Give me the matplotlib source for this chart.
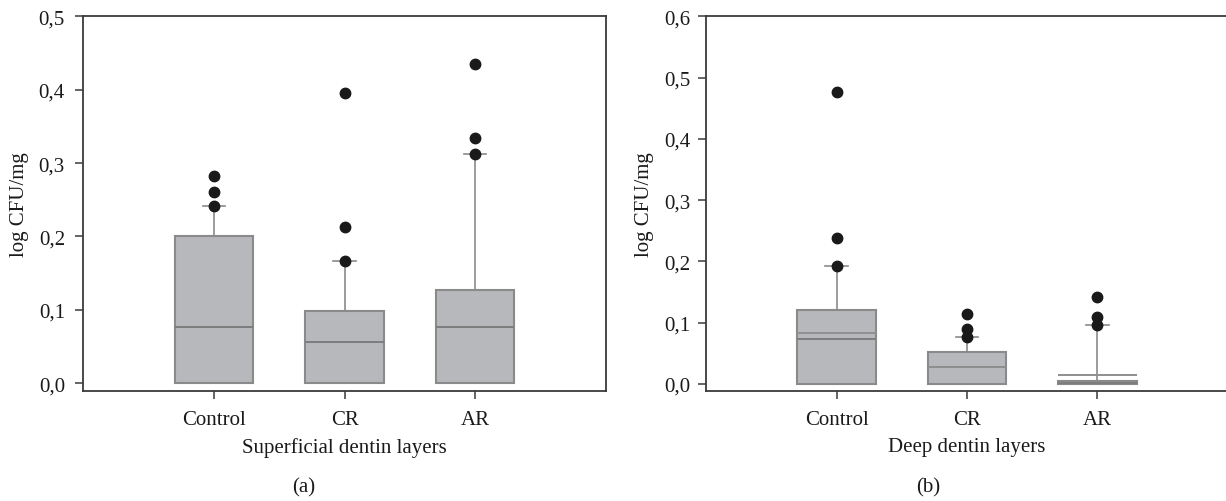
import matplotlib
matplotlib.use("Agg")
import matplotlib.pyplot as plt

plt.rcParams['font.family'] = ['Liberation Serif', 'DejaVu Serif']

groups = ["Control", "CR", "AR"]

# Superficial dentin layers (a)
sup_q1 = [0.0, 0.0, 0.0]
sup_med = [0.0766, 0.056, 0.0766]
sup_q3 = [0.2, 0.098, 0.127]
sup_whislo = [0.0, 0.0, 0.0]
sup_whishi = [0.241, 0.166, 0.3125]
sup_fliers = [[0.241, 0.260, 0.283], [0.166, 0.2136, 0.396], [0.3125, 0.334, 0.435]]

# Deep dentin layers (b)
deep_q1 = [0.0, 0.0, 0.0]
deep_med = [0.0732, 0.0283, 0.002]
deep_mean = [0.0827, 0.0283, 0.0152]
deep_q3 = [0.1212, 0.0517, 0.0044]
deep_whislo = [0.0, 0.0, 0.0]
deep_whishi = [0.193, 0.0767, 0.0963]
deep_fliers = [[0.193, 0.239, 0.4766], [0.0767, 0.0900, 0.114], [0.0963, 0.110, 0.1425]]

y_ticks_a = [0.0, 0.1, 0.2, 0.3, 0.4, 0.5]
y_ticks_b = [0.0, 0.1, 0.2, 0.3, 0.4, 0.5, 0.6]

W, H = 1226, 502
fig = plt.figure(figsize=(W / 100, H / 100), dpi=100)

BOX_FACE = "#b7b8bc"
BOX_EDGE = "#8a8a8a"
SPINE = "#3a3a3a"
FS = 15


def make_stats(q1, med, q3, lo, hi, fl, mean=None):
    stats = []
    for i in range(len(q1)):
        d = dict(q1=q1[i], med=med[i], q3=q3[i], whislo=lo[i], whishi=hi[i],
                 fliers=fl[i], label=groups[i])
        if mean is not None:
            d["mean"] = mean[i]
        stats.append(d)
    return stats


def draw(ax, stats, showmeans, ymax, yticks, xlabel, ylow):
    ax.bxp(stats, positions=[1, 2, 3], widths=0.6, capwidths=0.17,
           patch_artist=True, showmeans=showmeans, meanline=True,
           boxprops=dict(facecolor=BOX_FACE, edgecolor=BOX_EDGE, linewidth=1.5),
           medianprops=dict(color="#7d7d7d", linewidth=1.4),
           meanprops=dict(color="#8f8f8f", linewidth=1.4, linestyle="-"),
           whiskerprops=dict(color=BOX_EDGE, linewidth=1.2),
           capprops=dict(color=BOX_EDGE, linewidth=1.2),
           flierprops=dict(marker="o", markerfacecolor="#1a1a1a",
                           markeredgecolor="#1a1a1a", markersize=7.5))
    ax.set_xlim(0, 4)
    ax.set_ylim(ylow, ymax)
    ax.set_yticks(yticks, [f"{t:.1f}".replace(".", ",") for t in yticks])
    ax.set_xticks([1, 2, 3], groups)
    for s in ax.spines.values():
        s.set_color(SPINE)
        s.set_linewidth(1.3)
    ax.tick_params(axis="both", direction="out", length=6, width=1.1,
                   color=SPINE, labelsize=FS, labelcolor="#1a1a1a")
    ax.tick_params(axis="y", pad=7)
    ax.tick_params(axis="x", pad=8)
    ax.set_ylabel("log CFU/mg", fontsize=FS, color="#1a1a1a")
    ax.set_xlabel(xlabel, fontsize=FS, color="#1a1a1a", va="center")
    ax.xaxis.set_label_coords(0.5, -0.149)


ax1 = fig.add_axes([83 / W, (H - 392) / H, 523 / W, 374.7 / H])
draw(ax1, make_stats(sup_q1, sup_med, sup_q3, sup_whislo, sup_whishi, sup_fliers),
     False, 0.5, y_ticks_a, "Superficial dentin layers", -0.0105)
ax1.yaxis.set_label_coords(-0.104, 0.5)

ax2 = fig.add_axes([706 / W, (H - 392) / H, 522 / W, 374.7 / H])
draw(ax2, make_stats(deep_q1, deep_med, deep_q3, deep_whislo, deep_whishi, deep_fliers, deep_mean),
     True, 0.6, y_ticks_b, "Deep dentin layers", -0.0114)
ax2.tick_params(axis="y", pad=5)
ax2.yaxis.set_label_coords(-0.1, 0.5)

fig.text(304 / W, 1 - 488 / H, "(a)", ha="center", va="center", fontsize=FS, color="#1a1a1a")
fig.text(928 / W, 1 - 488 / H, "(b)", ha="center", va="center", fontsize=FS, color="#1a1a1a")

fig.savefig("out.png", dpi=100)
